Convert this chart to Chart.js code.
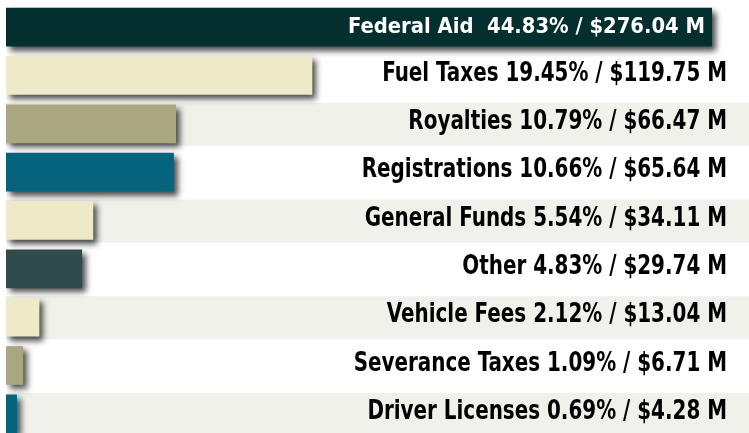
<!DOCTYPE html>
<html>
<head>
<meta charset="utf-8">
<script src="https://cdn.jsdelivr.net/npm/chart.js@4.4.1/dist/chart.umd.min.js"></script>
<style>
  html, body { margin: 0; padding: 0; background: #ffffff; overflow: hidden; width: 749px; height: 433px; }
  #wrap { width: 749px; height: 440px; }
</style>
</head>
<body>
<div id="wrap"><canvas id="c" width="749" height="440"></canvas></div>
<script>
const categories = ["Federal Aid ", "Fuel Taxes", "Royalties", "Registrations", "General Funds", "Other", "Vehicle Fees", "Severance Taxes", "Driver Licenses"];
const percents = ["44.83", "19.45", "10.79", "10.66", "5.54", "4.83", "2.12", "1.09", "0.69"];
const amounts = [276.04, 119.75, 66.47, 65.64, 34.11, 29.74, 13.04, 6.71, 4.28];
const barColors = ["#03302f", "#eeeac8", "#a9a680", "#06637e", "#eeeac8", "#2f4b4b", "#eeeac8", "#a9a680", "#06637e"];
const xMax = 290.5;

const labelTexts = categories.map((c, i) => c + " " + percents[i] + "% / $" + amounts[i].toFixed(2) + " M");

const FONT_OUT = "bold 27px 'DejaVu Sans Condensed', 'DejaVu Sans', sans-serif";
const FONT_IN = "bold 22px 'DejaVu Sans Condensed', 'DejaVu Sans', sans-serif";

const bandPlugin = {
  id: "bands",
  beforeDatasetsDraw(chart) {
    const { ctx, chartArea, scales } = chart;
    ctx.save();
    ctx.fillStyle = "#f1f1ec";
    categories.forEach((c, i) => {
      if (i % 2 === 0 && i > 0) {
        const y = scales.y.getPixelForValue(i);
        ctx.fillRect(chartArea.left, y - 21, chart.width - chartArea.left, 43);
      }
    });
    ctx.restore();
    ctx.save();
    ctx.shadowColor = "rgba(0,0,0,0.7)";
    ctx.shadowBlur = 6;
    ctx.shadowOffsetX = 4;
    ctx.shadowOffsetY = 4;
  },
  afterDatasetsDraw(chart) {
    const { ctx } = chart;
    ctx.restore();
    const meta = chart.getDatasetMeta(0);
    const labelRight = 727;
    meta.data.forEach((bar, i) => {
      const txt = labelTexts[i];
      ctx.save();
      ctx.textAlign = "right";
      ctx.textBaseline = "alphabetic";
      ctx.font = FONT_OUT;
      const wOut = ctx.measureText(txt).width * 0.82;
      if (bar.x > labelRight - wOut - 10) {
        ctx.font = FONT_IN;
        ctx.fillStyle = "#ffffff";
        ctx.translate(bar.x - 7, bar.y + 6);
        ctx.scale(0.99, 1);
      } else {
        ctx.fillStyle = "#000000";
        ctx.translate(labelRight, bar.y + 5);
        ctx.scale(0.82, 1);
      }
      ctx.fillText(txt, 0, 0);
      ctx.restore();
    });
  }
};

new Chart(document.getElementById("c"), {
  type: "bar",
  data: {
    labels: categories,
    datasets: [{
      data: amounts,
      backgroundColor: barColors,
      borderWidth: 0,
      barPercentage: 0.8,
      categoryPercentage: 1.0
    }]
  },
  options: {
    indexAxis: "y",
    responsive: false,
    animation: false,
    layout: { padding: { left: 6, right: 0, top: 3, bottom: 2 } },
    plugins: { legend: { display: false }, tooltip: { enabled: false } },
    scales: {
      x: { display: false, min: 0, max: xMax, grid: { display: false } },
      y: { display: false, grid: { display: false } }
    }
  },
  plugins: [bandPlugin]
});
</script>
</body>
</html>
